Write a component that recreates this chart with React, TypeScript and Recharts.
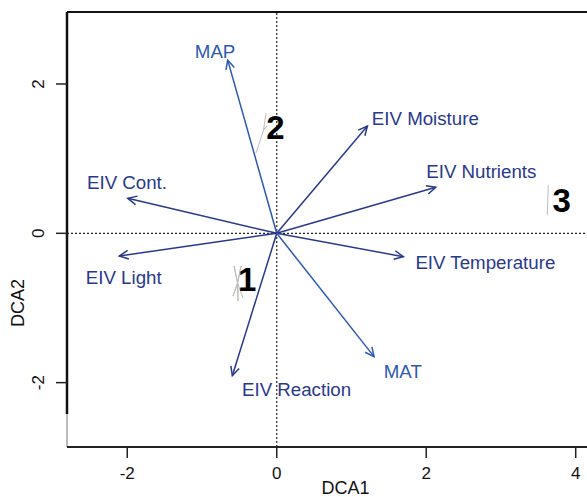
import { ComposedChart, XAxis, YAxis, Scatter, ReferenceLine } from 'recharts';

// Axis ranges (DCA1 / DCA2)
const xDomain = [-2.806, 4.646];
const yDomain = [-2.862, 2.964];
const xTicks = [-2, 0, 2, 4];
const yTicks = [-2, 0, 2];

// Environmental vectors (envfit arrows)
const vectorNames = ['MAP', 'EIV Cont.', 'EIV Moisture', 'EIV Nutrients', 'EIV Light', 'EIV Reaction', 'EIV Temperature', 'MAT'];
const vectorX = [-0.656, -1.993, 1.213, 2.127, -2.106, -0.594, 1.694, 1.302];
const vectorY = [2.32, 0.469, 1.437, 0.616, -0.304, -1.907, -0.313, -1.652];
const labelX = [-0.825, -2.003, 1.988, 2.737, -2.047, 0.265, 2.791, 1.687];
const labelY = [2.432, 0.674, 1.544, 0.825, -0.595, -2.089, -0.388, -1.853];
const climateVars = ['MAP', 'MAT'];

// Cluster spiders (site scores joined to centroid)
const cluster1 = [
  { x: -0.524, y: -0.666 }, { x: -0.571, y: -0.438 },
  { x: -0.524, y: -0.666 }, { x: -0.478, y: -0.438 },
  { x: -0.524, y: -0.666 }, { x: -0.518, y: -0.907 },
  { x: -0.524, y: -0.666 }, { x: -0.585, y: -0.84 },
  { x: -0.524, y: -0.666 }, { x: -0.451, y: -0.867 },
];
const cluster2 = [
  { x: -0.143, y: 1.611 }, { x: -0.177, y: 1.383 },
  { x: -0.13, y: 1.437 }, { x: -0.177, y: 1.383 }, { x: -0.277, y: 1.075 },
];
const cluster3 = [{ x: 3.633, y: 0.647 }, { x: 3.62, y: 0.245 }];

// Cluster numbers
const clusterNames = ['1', '2', '3'];
const clusterX = [-0.397, -0.016, 3.811];
const clusterY = [-0.625, 1.417, 0.446];

const EIV_BLUE = '#28398c';
const CLIM_BLUE = '#2d59b2';
const FONT = '"Liberation Sans", Arial, Helvetica, sans-serif';

const labels = vectorNames.map((name, i) => ({ name, x: labelX[i], y: labelY[i] }));
const numbers = clusterNames.map((name, i) => ({ name, x: clusterX[i], y: clusterY[i] }));

const colorFor = (name: string) => (climateVars.includes(name) ? CLIM_BLUE : EIV_BLUE);

const arrowShape = (color: string) => (props: any) => {
  const { x1, y1, x2, y2 } = props;
  const ang = Math.atan2(y2 - y1, x2 - x1);
  const len = 10;
  const spread = 0.45;
  const ax = x2 - len * Math.cos(ang - spread);
  const ay = y2 - len * Math.sin(ang - spread);
  const bx = x2 - len * Math.cos(ang + spread);
  const by = y2 - len * Math.sin(ang + spread);
  return (
    <g>
      <line x1={x1} y1={y1} x2={x2} y2={y2} stroke={color} strokeWidth={1.5} />
      <polyline points={`${ax},${ay} ${x2},${y2} ${bx},${by}`} fill="none" stroke={color} strokeWidth={1.5} />
    </g>
  );
};

const VectorLabel = (props: any) => {
  const { cx, cy, payload } = props;
  return (
    <text x={cx} y={cy} textAnchor="middle" dominantBaseline="central" fontFamily={FONT} fontSize={18.7} fill={colorFor(payload.name)}>
      {payload.name}
    </text>
  );
};

const ClusterLabel = (props: any) => {
  const { cx, cy, payload } = props;
  return (
    <text x={cx} y={cy} textAnchor="middle" dominantBaseline="central" fontFamily={FONT} fontSize={33} fontWeight="bold" fill="#000">
      {payload.name}
    </text>
  );
};

const XTick = (props: any) => (
  <text x={props.x} y={473} textAnchor="middle" dominantBaseline="central" fontFamily={FONT} fontSize={17} fill="#111">
    {props.payload.value}
  </text>
);

const YTick = (props: any) => (
  <text x={39} y={props.y} textAnchor="middle" dominantBaseline="central" fontFamily={FONT} fontSize={17} fill="#111" transform={`rotate(-90, 39, ${props.y})`}>
    {props.payload.value}
  </text>
);

const noDot = () => <g />;

export default function App() {
  return (
    <div style={{ position: 'absolute', left: 0, top: 0, width: 587, height: 497, overflow: 'hidden', background: '#fff' }}>
      <ComposedChart width={626} height={497} margin={{ top: 12, right: 2, bottom: 0, left: 0 }}>
        <XAxis
          type="number"
          dataKey="x"
          domain={xDomain}
          ticks={xTicks}
          allowDataOverflow
          height={50}
          tickSize={11}
          tick={XTick}
          axisLine={{ stroke: '#222', strokeWidth: 2 }}
          tickLine={{ stroke: '#222', strokeWidth: 1.5 }}
          label={() => (
            <text x={345.5} y={488} textAnchor="middle" dominantBaseline="central" fontFamily={FONT} fontSize={18} fill="#111">
              DCA1
            </text>
          )}
        />
        <YAxis
          type="number"
          dataKey="y"
          domain={yDomain}
          ticks={yTicks}
          allowDataOverflow
          width={67}
          tickSize={11}
          tick={YTick}
          axisLine={false}
          tickLine={{ stroke: '#222', strokeWidth: 1.5 }}
          label={() => (
            <text x={18} y={303} textAnchor="middle" dominantBaseline="central" fontFamily={FONT} fontSize={18} fill="#111" transform="rotate(-90, 18, 303)">
              DCA2
            </text>
          )}
        />

        {/* box */}
        <ReferenceLine y={yDomain[1]} stroke="#111" strokeWidth={2} />
        <ReferenceLine segment={[{ x: xDomain[0], y: yDomain[1] }, { x: xDomain[0], y: -2.42 }]} stroke="#111" strokeWidth={2.5} />
        <ReferenceLine segment={[{ x: xDomain[0], y: -2.42 }, { x: xDomain[0], y: yDomain[0] }]} stroke="#777" strokeWidth={1} />

        {/* zero lines */}
        <ReferenceLine x={0} stroke="#222" strokeWidth={1.2} strokeDasharray="2 2" />
        <ReferenceLine y={0} stroke="#222" strokeWidth={1.2} strokeDasharray="2 2" />

        <Scatter data={cluster1} line={{ stroke: '#bdbdbd', strokeWidth: 1 }} shape={noDot} isAnimationActive={false} />
        <Scatter data={cluster2} line={{ stroke: '#bdbdbd', strokeWidth: 1 }} shape={noDot} isAnimationActive={false} />
        <Scatter data={cluster3} line={{ stroke: '#bdbdbd', strokeWidth: 1 }} shape={noDot} isAnimationActive={false} />

        {vectorNames.map((name, i) => (
          <ReferenceLine
            key={name}
            segment={[{ x: 0, y: 0 }, { x: vectorX[i], y: vectorY[i] }]}
            shape={arrowShape(colorFor(name))}
          />
        ))}

        <Scatter data={labels} shape={VectorLabel} isAnimationActive={false} />
        <Scatter data={numbers} shape={ClusterLabel} isAnimationActive={false} />
      </ComposedChart>
    </div>
  );
}
